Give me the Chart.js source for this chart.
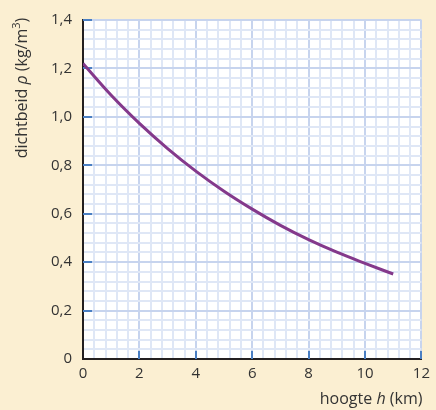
<!DOCTYPE html>
<html>
<head>
<meta charset="utf-8">
<script src="https://cdn.jsdelivr.net/npm/chart.js@4"></script>
<style>
  html, body { margin: 0; padding: 0; background: #fbefd2; }
  #wrap { position: relative; width: 436px; height: 410px; }
</style>
</head>
<body>
<div id="wrap"><canvas id="chart" width="436" height="410"></canvas></div>
<script>
// hoogte h (km) en dichtbeid (kg/m3)
const hoogte = [0, 1, 2, 3, 4, 5, 6, 7, 8, 9, 10, 11];
const dichtheid = [1.220, 1.089, 0.973, 0.869, 0.776, 0.693, 0.619, 0.552, 0.493, 0.441, 0.395, 0.351];
const xTicks = [0, 2, 4, 6, 8, 10, 12];
const yTicks = [0, 0.2, 0.4, 0.6, 0.8, 1.0, 1.2, 1.4];

const FONT = '"Open Sans", "Noto Sans", sans-serif';
const isMajor = (v, step) => Math.abs(v / step - Math.round(v / step)) < 1e-6;
const fmtY = (v) => (Math.abs(v) < 1e-9 ? '0' : v.toFixed(1).replace('.', ','));

// witte plotachtergrond + blauwe streepjes naar binnen + astitels
const plotExtras = {
  id: 'plotExtras',
  beforeDraw(chart) {
    const { ctx, chartArea: a } = chart;
    ctx.save();
    ctx.fillStyle = '#ffffff';
    ctx.fillRect(a.left, a.top, a.right - a.left, a.bottom - a.top);
    ctx.restore();
  },
  beforeDatasetsDraw(chart) {
    const { ctx, chartArea: a, scales } = chart;
    ctx.save();
    ctx.strokeStyle = '#4a7fc3';
    ctx.lineWidth = 2;
    for (const v of yTicks.slice(1)) {
      const y = Math.round(scales.y.getPixelForValue(v));
      ctx.beginPath(); ctx.moveTo(a.left, y); ctx.lineTo(a.left + 9, y); ctx.stroke();
    }
    for (const v of xTicks.slice(1)) {
      const x = Math.round(scales.x.getPixelForValue(v));
      ctx.beginPath(); ctx.moveTo(x, a.bottom); ctx.lineTo(x, a.bottom - 8); ctx.stroke();
    }
    ctx.restore();
  },
  afterDraw(chart) {
    const { ctx, chartArea: a } = chart;
    ctx.save();
    ctx.fillStyle = '#333333';
    ctx.textBaseline = 'middle';
    const parts = [['hoogte ', 'normal'], ['h', 'italic'], [' (km)', 'normal']];
    let w = 0;
    for (const [t, s] of parts) { ctx.font = `${s} 16px ${FONT}`; w += ctx.measureText(t).width; }
    let x = a.right + 1 - w;
    for (const [t, s] of parts) {
      ctx.font = `${s} 16px ${FONT}`;
      ctx.fillText(t, x, 399);
      x += ctx.measureText(t).width;
    }
    ctx.translate(22, 88);
    ctx.rotate(-Math.PI / 2);
    const yparts = [['dichtbeid ', 'normal', 0], ['ρ', 'italic', 0], [' (kg/m', 'normal', 0], ['3', 'normal', -5], [')', 'normal', 0]];
    w = 0;
    for (const [t, s, d] of yparts) { ctx.font = `${s} ${d ? 11 : 16}px ${FONT}`; w += ctx.measureText(t).width; }
    x = -w / 2;
    for (const [t, s, d] of yparts) {
      ctx.font = `${s} ${d ? 11 : 16}px ${FONT}`;
      ctx.fillText(t, x, d);
      x += ctx.measureText(t).width;
    }
    ctx.restore();
  }
};

new Chart(document.getElementById('chart'), {
  type: 'line',
  data: {
    datasets: [{
      data: hoogte.map((h, i) => ({ x: h, y: dichtheid[i] })),
      borderColor: '#84398b',
      borderWidth: 3,
      pointRadius: 0,
      cubicInterpolationMode: 'monotone',
      fill: false,
    }],
  },
  options: {
    responsive: false,
    animation: false,
    layout: { padding: { left: 0, right: 10, top: 16, bottom: 0 } },
    plugins: { legend: { display: false }, tooltip: { enabled: false } },
    scales: {
      x: {
        type: 'linear', min: 0, max: 12,
        afterFit: (s) => { s.height = 51; },
        ticks: {
          stepSize: 0.4, autoSkip: false, maxRotation: 0, padding: 6,
          color: '#333333', font: { family: FONT, size: 15 },
          callback: (v) => (isMajor(v, 2) ? String(Math.round(v)) : ''),
        },
        grid: {
          drawTicks: false, lineWidth: 2,
          color: (c) => (c.tick && isMajor(c.tick.value, 2) ? '#c7d4ee' : '#dfe7f6'),
        },
        border: { color: '#231f20', width: 2 },
      },
      y: {
        type: 'linear', min: 0, max: 1.4,
        afterFit: (s) => { s.width = 83; },
        ticks: {
          stepSize: 0.04, autoSkip: false, padding: 11,
          color: '#333333', font: { family: FONT, size: 15 },
          callback: (v) => (isMajor(v, 0.2) ? fmtY(v) : ''),
        },
        grid: {
          drawTicks: false, lineWidth: 2,
          color: (c) => (c.tick && isMajor(c.tick.value, 0.2) ? '#c7d4ee' : '#dfe7f6'),
        },
        border: { color: '#231f20', width: 2 },
      },
    },
  },
  plugins: [plotExtras],
});
</script>
</body>
</html>
